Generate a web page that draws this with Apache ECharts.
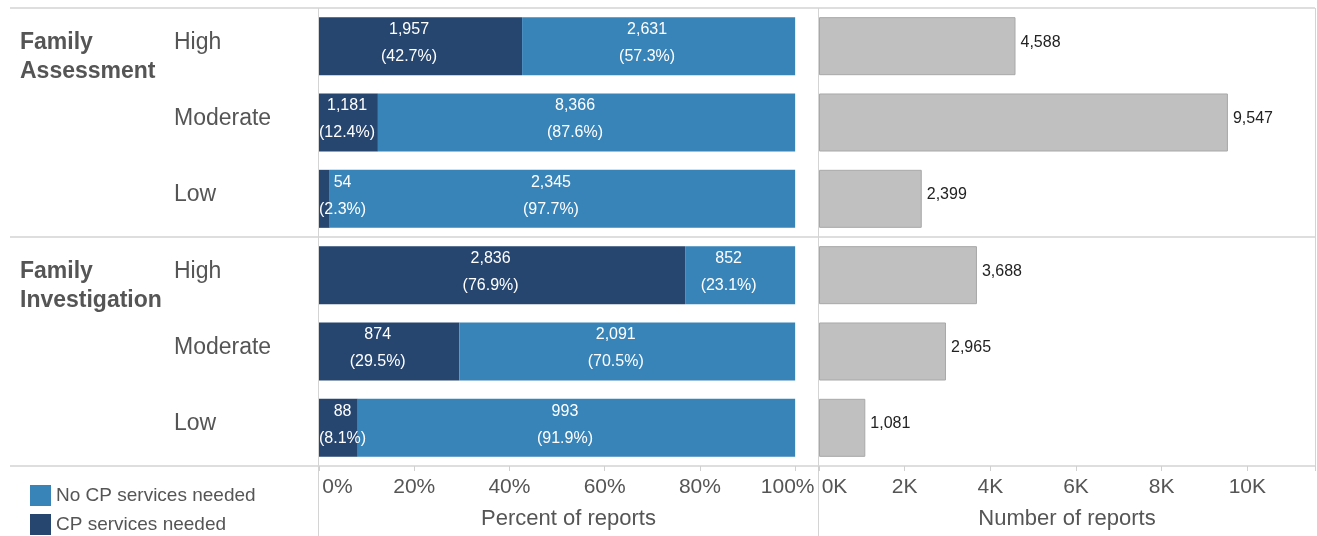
<!DOCTYPE html>
<html><head><meta charset="utf-8">
<script src="https://cdn.jsdelivr.net/npm/echarts@6/dist/echarts.min.js"></script>
<style>html,body{margin:0;padding:0;background:#fff}#c{width:1317px;height:536px}</style>
</head><body><div id="c"></div>
<script>
// ---- data ----
const rowLabels = ['High', 'Moderate', 'Low', 'High', 'Moderate', 'Low'];
const groupLabels = ['Family\nAssessment', '', '', 'Family\nInvestigation', '', ''];
const cpNeeded = [1957, 1181, 54, 2836, 874, 88];
const noCpNeeded = [2631, 8366, 2345, 852, 2091, 993];
const totals = [4588, 9547, 2399, 3688, 2965, 1081];
const seriesNames = ['No CP services needed', 'CP services needed'];
const pctAxisTitle = 'Percent of reports';
const numAxisTitle = 'Number of reports';

// ---- layout / style ----
const FONT = '"Liberation Sans", Arial, Helvetica, sans-serif';
const PANE_L = 319, PANE_M = 818, PANE_R = 1315, TOP = 8, BOTTOM = 466, LEFT_EDGE = 10, H = 536;
const DARK = '#264670', LIGHT = '#3884b8', GREY = '#c0c0c0';
const TXT = '#555';

const fmt = v => v.toLocaleString('en-US');
const share = (a, b) => a / (a + b);

const chart = echarts.init(document.getElementById('c'), null, {renderer: 'canvas'});

function barLabel(counts, others) {
  return {
    show: true, position: 'inside', color: '#fff', fontSize: 16, fontFamily: FONT,
    lineHeight: 27,
    formatter: p => fmt(counts[p.dataIndex]) + '\n(' +
      (100 * share(counts[p.dataIndex], others[p.dataIndex])).toFixed(1) + '%)'
  };
}
// shift labels slightly left/up as in the original, but keep them inside the pane
const pctLabelLayout = p => {
  const w = p.labelRect.width;
  const defLeft = p.rect.x + p.rect.width / 2 - w / 2;
  const wantLeft = Math.max(defLeft - 11.5, PANE_L);
  return {dx: wantLeft - defLeft, dy: -3};
};

const rowBand = (BOTTOM - TOP) / rowLabels.length;
const divY = Math.round(TOP + 3 * rowBand);
const hLine = y => ({type: 'line', z: -1, shape: {x1: LEFT_EDGE, y1: y, x2: PANE_R, y2: y},
  style: {stroke: '#dedede', lineWidth: 2}});
const vLine = (x, yb) => ({type: 'line', z: -1, shape: {x1: x + 0.5, y1: TOP, x2: x + 0.5, y2: yb},
  style: {stroke: '#d4d4d4', lineWidth: 1}});

const option = {
  animation: false,
  textStyle: {fontFamily: FONT},
  grid: [
    {left: PANE_L, top: TOP, width: PANE_M - PANE_L, height: BOTTOM - TOP, outerBoundsMode: 'none'},
    {left: PANE_M + 1, top: TOP, width: PANE_R - PANE_M - 1, height: BOTTOM - TOP, outerBoundsMode: 'none'}
  ],
  graphic: [hLine(TOP), hLine(divY), hLine(BOTTOM), vLine(PANE_L - 1, H), vLine(PANE_M, H), vLine(PANE_R, BOTTOM)],
  legend: {
    data: seriesNames, orient: 'vertical', left: 30, top: 485, padding: 0,
    itemWidth: 21, itemHeight: 21, itemGap: 8, icon: 'rect',
    textStyle: {fontSize: 19, color: TXT, fontFamily: FONT},
    itemStyle: {borderWidth: 0}, selectedMode: false
  },
  xAxis: [
    {
      gridIndex: 0, type: 'value', min: 0, max: 1.048, interval: 0.2,
      axisLine: {show: false}, splitLine: {show: false},
      axisTick: {show: true, length: 5, lineStyle: {color: '#d0d0d0'}},
      axisLabel: {
        fontSize: 21, color: TXT, margin: 11, fontFamily: FONT, showMaxLabel: true,
        formatter: v => {
          if (v > 1.0001) return '';
          const t = Math.round(v * 100) + '%';
          if (v === 0) return '{first|' + t + '}';
          if (Math.abs(v - 1) < 1e-6) return '{last|' + t + '}';
          return t;
        },
        rich: {
          first: {fontSize: 21, color: TXT, fontFamily: FONT, padding: [0, 0, 0, 37]},
          last: {fontSize: 21, color: TXT, fontFamily: FONT, padding: [0, 15, 0, 0]}
        }
      },
      name: pctAxisTitle, nameLocation: 'middle', nameGap: 42,
      nameTextStyle: {fontSize: 22, color: TXT, fontFamily: FONT}
    },
    {
      gridIndex: 1, type: 'value', min: 0, max: 11580, interval: 2000,
      axisLine: {show: false}, splitLine: {show: false},
      axisTick: {show: true, length: 5, lineStyle: {color: '#d0d0d0'}},
      axisLabel: {
        fontSize: 21, color: TXT, margin: 11, fontFamily: FONT,
        formatter: v => {
          if (v > 10001) return '';
          if (v === 0) return '{first|0K}';
          return (v / 1000) + 'K';
        },
        rich: {first: {fontSize: 21, color: TXT, fontFamily: FONT, padding: [0, 0, 0, 31]}}
      },
      name: numAxisTitle, nameLocation: 'middle', nameGap: 42,
      nameTextStyle: {fontSize: 22, color: TXT, fontFamily: FONT}
    }
  ],
  yAxis: [
    {
      gridIndex: 0, type: 'category', data: rowLabels, inverse: true, position: 'left',
      axisLine: {show: false}, axisTick: {show: false}, splitLine: {show: false},
      axisLabel: {
        align: 'left', margin: PANE_L - 174, fontFamily: FONT,
        formatter: v => '{r|' + v + '}\n{s| }',
        rich: {
          r: {fontSize: 23, color: TXT, fontFamily: FONT, lineHeight: 28},
          s: {fontSize: 6, lineHeight: 8}
        }
      }
    },
    {
      gridIndex: 0, type: 'category', data: groupLabels, inverse: true, position: 'left',
      axisLine: {show: false}, axisTick: {show: false}, splitLine: {show: false},
      axisLabel: {
        align: 'left', margin: PANE_L - 20, fontFamily: FONT,
        formatter: v => v ? '{s| }\n' + v.split('\n').map(t => '{g|' + t + '}').join('\n') : '',
        rich: {
          g: {fontSize: 23, fontWeight: 'bold', color: TXT, fontFamily: FONT, lineHeight: 28.5},
          s: {fontSize: 8, lineHeight: 22}
        }
      }
    },
    {
      gridIndex: 1, type: 'category', data: rowLabels, inverse: true,
      axisLine: {show: false}, axisTick: {show: false}, splitLine: {show: false},
      axisLabel: {show: false}
    }
  ],
  series: [
    {
      name: seriesNames[1], type: 'bar', stack: 'pct', xAxisIndex: 0, yAxisIndex: 0,
      barWidth: '76%', itemStyle: {color: DARK},
      data: cpNeeded.map((v, i) => share(v, noCpNeeded[i])),
      label: barLabel(cpNeeded, noCpNeeded),
      labelLayout: pctLabelLayout
    },
    {
      name: seriesNames[0], type: 'bar', stack: 'pct', xAxisIndex: 0, yAxisIndex: 0,
      barWidth: '76%', itemStyle: {color: LIGHT},
      data: noCpNeeded.map((v, i) => share(v, cpNeeded[i])),
      label: barLabel(noCpNeeded, cpNeeded),
      labelLayout: pctLabelLayout
    },
    {
      name: 'Total', type: 'bar', xAxisIndex: 1, yAxisIndex: 2,
      barWidth: '76%', itemStyle: {color: GREY, borderColor: '#a8a8a8', borderWidth: 1},
      data: totals,
      label: {show: true, position: 'right', distance: 5, offset: [0, -4], color: '#222',
        fontSize: 16, fontFamily: FONT, formatter: p => fmt(p.value)}
    }
  ]
};
chart.setOption(option);
</script>
</body></html>
